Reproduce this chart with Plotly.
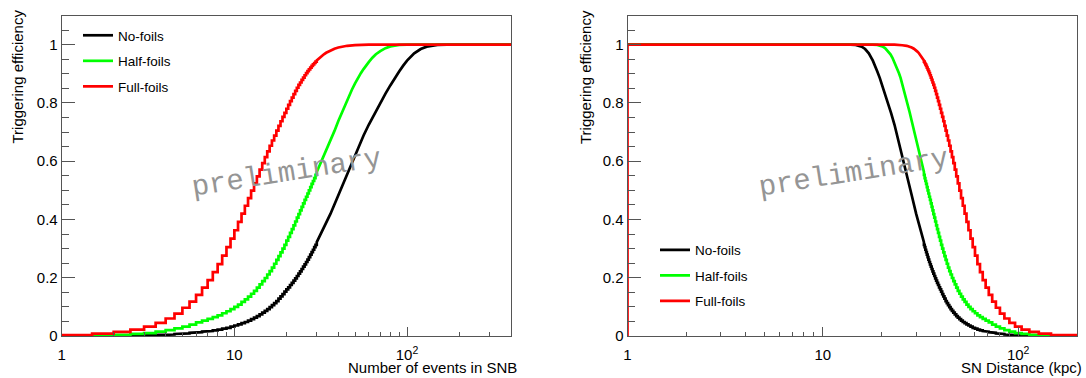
import numpy as np
import plotly.graph_objects as go

# ---------------- data ----------------
# lower edges of the 0.5-event bins (binned / stepped part of the curves)
bin_low_edges = [0.5, 1.0, 1.5, 2.0, 2.5, 3.0, 3.5, 4.0, 4.5, 5.0, 5.5, 6.0, 6.5, 7.0, 7.5,
                 8.0, 8.5, 9.0, 9.5, 10.0, 10.5, 11.0, 11.5, 12.0, 12.5, 13.0, 13.5, 14.0,
                 14.5, 15.0, 15.5, 16.0, 16.5, 17.0, 17.5, 18.0, 18.5, 19.0, 19.5, 20.0,
                 20.5, 21.0, 21.5, 22.0, 22.5, 23.0, 23.5, 24.0, 24.5, 25.0, 25.5, 26.0,
                 26.5, 27.0, 27.5, 28.0, 28.5, 29.0, 29.5, 30.0]

eff_nofoils_bins = [0.0, 0.0, 0.0005, 0.001, 0.002, 0.003, 0.004, 0.005, 0.007, 0.009, 0.011,
                    0.013, 0.015, 0.017, 0.019, 0.022, 0.025, 0.028, 0.032, 0.036, 0.040,
                    0.044, 0.048, 0.053, 0.058, 0.063, 0.068, 0.074, 0.080, 0.086, 0.092,
                    0.099, 0.106, 0.113, 0.120, 0.128, 0.136, 0.144, 0.152, 0.160, 0.167,
                    0.175, 0.182, 0.190, 0.198, 0.206, 0.214, 0.222, 0.230, 0.238, 0.246,
                    0.254, 0.262, 0.271, 0.279, 0.288, 0.296, 0.305, 0.313, 0.322]

eff_halffoils_bins = [0.0, 0.001, 0.002, 0.004, 0.007, 0.010, 0.015, 0.020, 0.026, 0.032, 0.039,
                      0.047, 0.053, 0.059, 0.065, 0.071, 0.078, 0.085, 0.092, 0.100, 0.108,
                      0.117, 0.126, 0.135, 0.145, 0.155, 0.166, 0.177, 0.188, 0.199, 0.211,
                      0.223, 0.235, 0.248, 0.261, 0.274, 0.287, 0.300, 0.313, 0.327, 0.340,
                      0.354, 0.367, 0.380, 0.393, 0.406, 0.418, 0.431, 0.443, 0.455, 0.467,
                      0.478, 0.489, 0.500, 0.511, 0.522, 0.532, 0.542, 0.553, 0.563]

eff_fullfoils_bins = [0.002, 0.004, 0.008, 0.014, 0.022, 0.032, 0.045, 0.060, 0.077, 0.097, 0.118,
                      0.141, 0.166, 0.192, 0.219, 0.247, 0.276, 0.305, 0.334, 0.363, 0.392,
                      0.420, 0.447, 0.473, 0.499, 0.524, 0.548, 0.571, 0.593, 0.614, 0.634,
                      0.653, 0.671, 0.688, 0.705, 0.721, 0.737, 0.752, 0.766, 0.780, 0.793,
                      0.806, 0.818, 0.830, 0.841, 0.852, 0.862, 0.870, 0.879, 0.887, 0.895,
                      0.902, 0.909, 0.915, 0.921, 0.927, 0.932, 0.937, 0.942, 0.946]

# fine-binned part (steps below line width): number of events and efficiency
n_nofoils_fine = [30, 33, 36, 40, 44, 48, 52, 56, 60, 65, 70, 75, 80, 85, 90, 95, 100, 110,
                  120, 130, 140, 150, 170, 400, 40000]
eff_nofoils_fine = [0.322, 0.370, 0.419, 0.483, 0.542, 0.597, 0.645, 0.688, 0.725, 0.765,
                    0.800, 0.832, 0.860, 0.886, 0.908, 0.928, 0.945, 0.970, 0.985, 0.993,
                    0.997, 0.999, 1.0, 1.0, 1.0]

n_halffoils_fine = [30, 32, 34, 36, 38, 40, 42, 44, 46, 48, 50, 52, 54, 56, 58, 60, 63, 66,
                    70, 75, 80, 85, 90, 100, 400, 40000]
eff_halffoils_fine = [0.563, 0.600, 0.636, 0.670, 0.704, 0.738, 0.768, 0.796, 0.822, 0.846,
                      0.867, 0.886, 0.902, 0.916, 0.929, 0.940, 0.955, 0.967, 0.978, 0.988,
                      0.994, 0.997, 0.999, 1.0, 1.0, 1.0]

n_fullfoils_fine = [30, 31, 32, 33, 34, 35, 36, 38, 40, 42, 45, 50, 55, 60, 400, 40000]
eff_fullfoils_fine = [0.946, 0.954, 0.961, 0.967, 0.972, 0.976, 0.980, 0.986, 0.990, 0.993,
                      0.996, 0.998, 0.999, 1.0, 1.0, 1.0]

# expected number of SNB events for a supernova at 1 kpc (distance scaling 1/d^2)
N_EVENTS_AT_1KPC = 32500.0

series_names = ["No-foils", "Half-foils", "Full-foils"]
series_colors = ["#000000", "#00ff00", "#ff0000"]

y_tick_vals = [0, 0.2, 0.4, 0.6, 0.8, 1.0]
y_tick_text = ["0", "0.2", "0.4", "0.6", "0.8", "1"]
x_tick_vals = [1, 10, 100]
x_tick_text = ["1", "10", "10<sup>2</sup>"]

# ---------------- figure ----------------
W, H = 1086, 378
FONT = "Liberation Sans, Arial, Helvetica, sans-serif"

steps = [eff_nofoils_bins, eff_halffoils_bins, eff_fullfoils_bins]
fines = [(n_nofoils_fine, eff_nofoils_fine), (n_halffoils_fine, eff_halffoils_fine),
         (n_fullfoils_fine, eff_fullfoils_fine)]


def histogram_path(edges, vals, fine_n, fine_eff):
    """Histogram outline (flat top on every bin) followed by the finely binned part."""
    xs, ys = [], []
    for i, v in enumerate(vals):
        xs.append(edges[i]); ys.append(v)
        if i + 1 < len(vals):
            xs.append(edges[i + 1]); ys.append(v)
    xs += list(fine_n[1:]); ys += list(fine_eff[1:])
    return np.array(xs, dtype=float), np.array(ys, dtype=float)


def to_distance(n):
    return np.sqrt(N_EVENTS_AT_1KPC / np.asarray(n, dtype=float))


fig = go.Figure()
LW = 2.7
for name, col, sy, (fn, fy) in zip(series_names, series_colors, steps, fines):
    px, py = histogram_path(bin_low_edges, sy, fn, fy)
    # left panel: efficiency vs number of events
    fig.add_trace(go.Scatter(x=px, y=py, mode="lines", line=dict(color=col, width=LW),
                             name=name, legend="legend", legendgroup="L" + name, xaxis="x", yaxis="y"))
    # right panel: efficiency vs distance
    fig.add_trace(go.Scatter(x=to_distance(px), y=py, mode="lines", line=dict(color=col, width=LW),
                             name=name, legend="legend2", legendgroup="R" + name, xaxis="x2", yaxis="y2"))

# histogram lower edge at 1 kpc (red drawn last, on top)
fig.add_trace(go.Scatter(x=[1, 1], y=[0, eff_fullfoils_fine[-1]], mode="lines",
                         line=dict(color="#ff0000", width=LW), showlegend=False, xaxis="x2", yaxis="y2"))

ydom = [1 - 336 / H, 1 - 15.5 / H]
axis_common = dict(showline=True, mirror=True, linecolor="#555555", linewidth=1, showgrid=False,
                   zeroline=False, ticks="inside", tickcolor="#555555", automargin=False,
                   tickfont=dict(family=FONT, size=15, color="#000"))

minor_x = [2, 3, 4, 5, 6, 7, 8, 9, 20, 30, 40, 50, 60, 70, 80, 90, 200, 300, 400]
minor_y = [0.05, 0.1, 0.15, 0.25, 0.3, 0.35, 0.45, 0.5, 0.55, 0.65, 0.7, 0.75, 0.85, 0.9, 0.95, 1.05]

legend_common = dict(xanchor="left", yanchor="top", bgcolor="rgba(0,0,0,0)",
                     font=dict(family=FONT, size=13.5, color="#000"), traceorder="grouped",
                     itemwidth=30, tracegroupgap=5)

fig.update_layout(
    width=W, height=H, margin=dict(l=0, r=0, t=0, b=0, autoexpand=False),
    paper_bgcolor="white", plot_bgcolor="white",
    font=dict(family=FONT, size=15, color="#000"),
    xaxis=dict(axis_common, type="log", range=[0, np.log10(400)], domain=[61.7 / W, 511 / W],
               tickvals=x_tick_vals, ticktext=x_tick_text, ticklen=9, anchor="y", ticklabelstandoff=5,
               minor=dict(ticks="inside", ticklen=4.5, tickvals=minor_x, tickcolor="#555555")),
    yaxis=dict(axis_common, range=[0, 1.1], domain=ydom, tickvals=y_tick_vals, ticktext=y_tick_text,
               ticklen=13, anchor="x",
               minor=dict(ticks="inside", ticklen=7, tickvals=minor_y, tickcolor="#555555")),
    xaxis2=dict(axis_common, type="log", range=[0, np.log10(200)], domain=[627.5 / W, 1077 / W],
                tickvals=x_tick_vals, ticktext=x_tick_text, ticklen=9, anchor="y2", ticklabelstandoff=5,
                minor=dict(ticks="inside", ticklen=4.5, tickvals=minor_x, tickcolor="#555555")),
    yaxis2=dict(axis_common, range=[0, 1.1], domain=ydom, tickvals=y_tick_vals, ticktext=y_tick_text,
                ticklen=13, anchor="x2",
                minor=dict(ticks="inside", ticklen=7, tickvals=minor_y, tickcolor="#555555")),
    legend=dict(legend_common, x=78 / W, y=1 - 20 / H),
    legend2=dict(legend_common, x=655 / W, y=1 - 234.5 / H),
)

annots = [
    dict(text="Triggering efficiency", x=16.5 / W, y=1 - 8 / H, textangle=-90, xanchor="center", yanchor="top"),
    dict(text="Triggering efficiency", x=585 / W, y=1 - 8 / H, textangle=-90, xanchor="center", yanchor="top"),
    dict(text="Number of events in SNB", x=518.5 / W, y=1 - 367 / H, xanchor="right", yanchor="middle"),
    dict(text="SN Distance (kpc)", x=1084 / W, y=1 - 367 / H, xanchor="right", yanchor="middle"),
]
for a in annots:
    fig.add_annotation(xref="paper", yref="paper", showarrow=False,
                       font=dict(family=FONT, size=15, color="#000"), **a)

for cx in (286.5 / W, 853 / W):
    fig.add_annotation(xref="paper", yref="paper", x=cx, y=1 - 174 / H, text="preliminary", showarrow=False,
                       textangle=-9, xanchor="center", yanchor="middle",
                       font=dict(family="Liberation Mono, Courier New, monospace", size=29, color="#959595"))

# page without body margin so the 1086x378 figure fills the window exactly
fig.write_html("out.html", config={"displayModeBar": False},
               post_script="document.body.style.margin='0';document.body.style.padding='0';")
